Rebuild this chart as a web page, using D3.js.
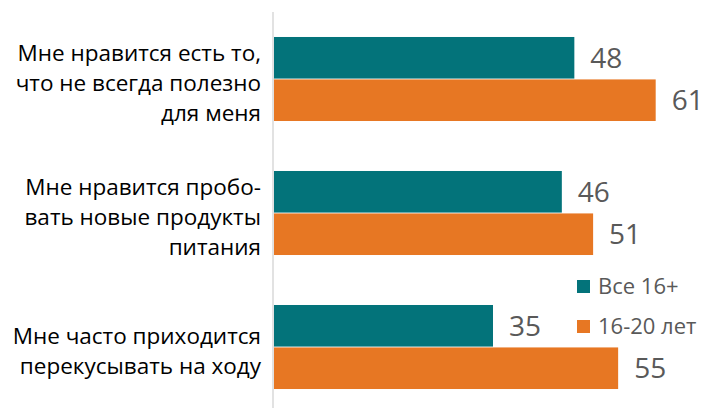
<!DOCTYPE html>
<html>
<head>
<meta charset="utf-8">
<script src="https://cdn.jsdelivr.net/npm/d3@7"></script>
<style>
  body { margin: 0; background: #fff; }
  svg { display: block; font-family: "Open Sans", sans-serif; }
</style>
</head>
<body>
<div id="chart"></div>
<script>
// данные графика
var categories = ["q1", "q2", "q3"];
var categoryLines = [
  ["Мне нравится есть то,", "что не всегда полезно", "для меня"],
  ["Мне нравится пробо-", "вать новые продукты", "питания"],
  ["Мне часто приходится", "перекусывать на ходу"]
];
var seriesNames = ["Все 16+", "16-20 лет"];
var allValues = [48, 46, 35];
var youngValues = [61, 51, 55];
var colors = ["#03737a", "#e77723"];

var W = 710, H = 408;

var svg = d3.select("#chart").append("svg")
  .attr("width", W).attr("height", H);

// шкалы
var x = d3.scaleLinear().domain([0, 70]).range([274, 712]);
var y = d3.scaleBand().domain(categories).range([-13, 439]).padding(0.373);
var ySub = d3.scaleBand().domain([0, 1]).range([0, y.bandwidth()]).paddingInner(0.02);

var rows = categories.map(function(c, i) {
  return {cat: c, vals: [allValues[i], youngValues[i]], lines: categoryLines[i]};
});

// вертикальная ось
svg.append("line")
  .attr("x1", x(0) - 1).attr("x2", x(0) - 1)
  .attr("y1", 12).attr("y2", H)
  .attr("stroke", "#d9d9d9").attr("stroke-width", 1.5);

var g = svg.selectAll("g.row").data(rows).enter().append("g")
  .attr("class", "row")
  .attr("transform", function(d) { return "translate(0," + y(d.cat) + ")"; });

// столбцы
g.selectAll("rect").data(function(d) { return d.vals; }).enter().append("rect")
  .attr("x", x(0))
  .attr("y", function(v, i) { return ySub(i); })
  .attr("width", function(v) { return x(v) - x(0); })
  .attr("height", ySub.bandwidth())
  .attr("fill", function(v, i) { return colors[i]; });

// подписи значений
g.selectAll("text.val").data(function(d) { return d.vals; }).enter().append("text")
  .attr("class", "val")
  .attr("x", function(v) { return x(v) + 16; })
  .attr("y", function(v, i) { return ySub(i) + ySub.bandwidth() / 2; })
  .attr("dy", "0.36em")
  .attr("fill", "#595959")
  .style("font-size", "28px")
  .text(function(v) { return v; });

// подписи категорий
g.each(function(d) {
  var t = d3.select(this).append("text")
    .attr("text-anchor", "end")
    .attr("fill", "#000")
    .style("font-size", "22.5px");
  var n = d.lines.length;
  d.lines.forEach(function(line, k) {
    t.append("tspan")
      .attr("x", 261)
      .attr("y", y.bandwidth() / 2 + 4 + (k - (n - 1) / 2) * 30)
      .attr("dy", "0.36em")
      .text(line);
  });
});

// легенда
var legend = svg.append("g");
seriesNames.forEach(function(name, i) {
  var cy = 286.5 + i * 40;
  legend.append("rect")
    .attr("x", 577).attr("y", cy - 6.5)
    .attr("width", 13).attr("height", 13)
    .attr("fill", colors[i]);
  legend.append("text")
    .attr("x", 598).attr("y", cy)
    .attr("dy", "0.36em")
    .attr("fill", "#595959")
    .style("font-size", "22px")
    .text(name);
});
</script>
</body>
</html>
